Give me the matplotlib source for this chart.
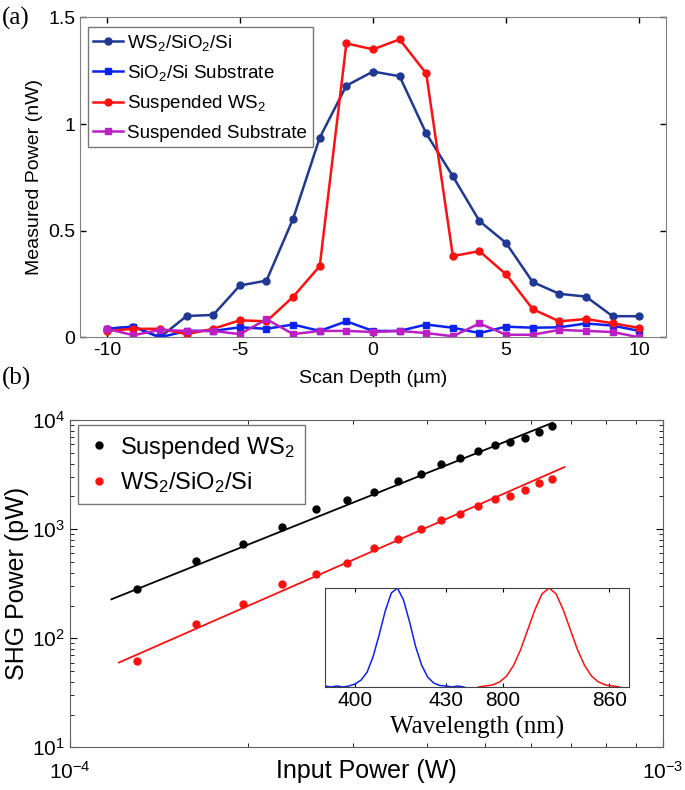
import numpy as np
import matplotlib
matplotlib.use("Agg")
import matplotlib.pyplot as plt
from matplotlib.ticker import NullFormatter

plt.rcParams['font.family'] = ['Liberation Sans', 'DejaVu Sans']
plt.rcParams['mathtext.fontset'] = 'custom'
plt.rcParams['mathtext.rm'] = 'Liberation Sans'
plt.rcParams['mathtext.it'] = 'Liberation Sans:italic'
plt.rcParams['axes.unicode_minus'] = False

# ---- panel (a) data ----
depth = np.arange(-10, 11)
ws2_sio2 = [0.04, 0.05, 0.0, 0.10, 0.105, 0.243, 0.266, 0.556, 0.936, 1.18, 1.246,
            1.224, 0.956, 0.755, 0.545, 0.442, 0.259, 0.204, 0.191, 0.099, 0.099]
sio2_sub = [0.04, 0.05, 0.0, 0.03, 0.03, 0.047, 0.04, 0.06, 0.03, 0.075, 0.03,
            0.03, 0.06, 0.045, 0.02, 0.05, 0.045, 0.047, 0.065, 0.055, 0.03]
susp_ws2 = [0.03, 0.04, 0.04, 0.015, 0.04, 0.08, 0.075, 0.19, 0.334, 1.378, 1.35,
            1.397, 1.237, 0.381, 0.404, 0.295, 0.132, 0.075, 0.086, 0.066, 0.044]
susp_sub = [0.04, 0.01, 0.035, 0.03, 0.03, 0.015, 0.085, 0.015, 0.03, 0.03, 0.025,
            0.03, 0.02, 0.005, 0.065, 0.012, 0.012, 0.035, 0.03, 0.025, 0.0]

# ---- panel (b) data ----
p_in = np.array([1.30, 1.63, 1.96, 2.28, 2.60, 2.93, 3.26, 3.58, 3.91, 4.23, 4.55,
                 4.88, 5.20, 5.53, 5.85, 6.18, 6.51]) * 1e-4
shg_susp = [286, 514, 740, 1057, 1550, 1845, 2198, 2773, 3193, 3939, 4470,
            5186, 5926, 6355, 6918, 7850, 8780]
shg_sub = [62, 135, 206, 318, 387, 495, 670, 810, 1014, 1209, 1392,
           1637, 1884, 2020, 2291, 2675, 2870]
# fitted lines (end points)
fit_x_susp = [1.175e-4, 6.51e-4]
fit_y_susp = [228, 9480]
fit_x_sub = [1.21e-4, 6.82e-4]
fit_y_sub = [60, 3724]

# inset spectra (normalised)
wl_blue = [390, 392, 394, 396, 398, 400, 402, 404, 406, 408, 410, 412, 414, 416,
           418, 420, 422, 424, 426, 428, 430, 432, 434, 436]
int_blue = [0.01, 0.0, 0.01, 0.0, 0.01, 0.03, 0.07, 0.15, 0.31, 0.53, 0.77, 0.95,
            1.0, 0.88, 0.66, 0.41, 0.22, 0.10, 0.04, 0.015, 0.01, 0.0, 0.01, 0.0]
wl_red = [786, 790, 794, 798, 802, 806, 810, 814, 818, 822, 826, 830, 834, 838,
          842, 846, 850, 854, 858, 862, 866]
int_red = [0.0, 0.01, 0.02, 0.05, 0.11, 0.22, 0.38, 0.58, 0.78, 0.94, 1.0, 0.94,
           0.78, 0.58, 0.38, 0.22, 0.11, 0.05, 0.02, 0.01, 0.0]

fig = plt.figure(figsize=(6.85, 7.9), dpi=100)

# ================= (a) =================
ax1 = fig.add_axes([0.117, 0.573, 0.855, 0.405])
ax1.plot(depth, ws2_sio2, '-o', color='#1f3893', lw=1.8, ms=5, label='WS$_2$/SiO$_2$/Si')
ax1.plot(depth, sio2_sub, '-s', color='#0b22ee', lw=1.8, ms=4.5, label='SiO$_2$/Si Substrate')
ax1.plot(depth, susp_ws2, '-o', color='#ff1010', lw=1.8, ms=5, label='Suspended WS$_2$')
ax1.plot(depth, susp_sub, '-s', color='#bb1fc4', lw=1.8, ms=4.5, label='Suspended Substrate')
ax1.set_xlim(-11, 11)
ax1.set_ylim(0, 1.5)
ax1.set_xticks([-10, -5, 0, 5, 10])
ax1.set_yticks([0, 0.5, 1, 1.5])
ax1.set_yticklabels(['0', '0.5', '1', '1.5'])
ax1.tick_params(direction='in', top=True, right=True, labelsize=14, length=4, width=1)
for s in ax1.spines.values():
    s.set_color('#808080')
ax1.set_xlabel('Scan Depth (µm)', fontsize=14, labelpad=8)
ax1.set_ylabel('Measured Power (nW)', fontsize=14)
leg = ax1.legend(loc='upper left', bbox_to_anchor=(0.013, 0.97), fontsize=13.5,
                 frameon=True, fancybox=False, edgecolor='#555555', handlelength=1.6,
                 handletextpad=0.2, borderpad=0.3, labelspacing=0.55, borderaxespad=0)
leg.get_frame().set_linewidth(1.0)
fig.text(0.003, 0.977, '(a)', family='Liberation Serif', fontsize=18, va='center')

# ================= (b) =================
ax2 = fig.add_axes([0.102, 0.054, 0.866, 0.414])
ax2.set_xscale('log')
ax2.set_yscale('log')
ax2.plot(p_in, shg_susp, 'o', color='black', ms=5, label='Suspended WS$_2$')
ax2.plot(p_in, shg_sub, 'o', color='#ff1010', ms=5, label='WS$_2$/SiO$_2$/Si')
ax2.plot(fit_x_susp, fit_y_susp, '-', color='black', lw=1.3)
ax2.plot(fit_x_sub, fit_y_sub, '-', color='#ff1010', lw=1.3)
ax2.set_xlim(1e-4, 1e-3)
ax2.set_ylim(10, 1e4)
ax2.xaxis.set_minor_formatter(NullFormatter())
ax2.yaxis.set_minor_formatter(NullFormatter())
ax2.tick_params(which='both', direction='in', top=True, right=True, labelsize=15)
ax2.tick_params(which='major', length=5)
ax2.tick_params(which='minor', length=3)
ax2.tick_params(axis='x', pad=10)
for s in ax2.spines.values():
    s.set_color('#606060')
ax2.set_xlabel('Input Power (W)', fontsize=18)
ax2.xaxis.set_label_coords(0.5, -0.035)
ax2.set_ylabel('SHG Power (pW)', fontsize=18, labelpad=2)
leg2 = ax2.legend(loc='upper left', bbox_to_anchor=(0.0135, 0.985), fontsize=17,
                  frameon=True, fancybox=False, edgecolor='#555555', handlelength=1.0,
                  handletextpad=0.4, borderpad=0.4, labelspacing=0.4, borderaxespad=0)
leg2.get_frame().set_linewidth(1.0)
fig.text(0.003, 0.521, '(b)', family='Liberation Serif', fontsize=18, va='center')

# inset, split wavelength axis
ins_b = fig.add_axes([0.4745, 0.1304, 0.2131, 0.1253])
ins_r = fig.add_axes([0.6876, 0.1304, 0.2307, 0.1253])
ins_b.plot(wl_blue, int_blue, color='#0b22ee', lw=1.1)
ins_r.plot(wl_red, int_red, color='#ff1010', lw=1.1)
ins_b.set_xlim(390.1, 438.3)
ins_r.set_xlim(781.9, 871.2)
for a in (ins_b, ins_r):
    a.set_ylim(0, 1.0)
    a.set_yticks([])
    a.tick_params(direction='in', top=True, labelsize=15, length=3, pad=3)
    for s in a.spines.values():
        s.set_color('#404040')
ins_b.set_xticks([400, 430])
ins_r.set_xticks([800, 860])
ins_b.spines['right'].set_visible(False)
ins_r.spines['left'].set_visible(False)
fig.text(0.697, 0.079, 'Wavelength (nm)', family='Liberation Serif', fontsize=18,
         ha='center', va='center')

fig.savefig('out.png', dpi=100)
